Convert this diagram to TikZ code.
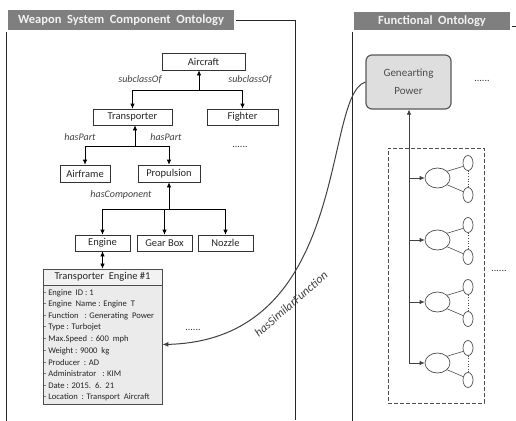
\documentclass[tikz,border=0pt]{standalone}
\usepackage{fontspec}
\setmainfont{Carlito}
\usetikzlibrary{arrows.meta,shapes.geometric,shadows,calc}
\definecolor{titlegray}{HTML}{7F7F7F}
\definecolor{linegray}{HTML}{333333}
\tikzset{
  titlebox/.style={fill=titlegray, draw=white, line width=1.6pt, text=white!95!black,
    font=\fontsize{12.5}{14}\selectfont\bfseries, inner sep=0pt,
    drop shadow={shadow xshift=0.6pt, shadow yshift=-0.8pt, opacity=0.3, fill=black}},
  cls/.style={draw=linegray, line width=0.7pt, fill=white, inner sep=0pt,
    minimum height=16, font=\fontsize{10.5}{12}\selectfont, text=black!85},
  rel/.style={font=\fontsize{10}{12}\selectfont\itshape, text=black!75, inner sep=0pt},
  conn/.style={draw=black, line width=0.7pt},
  arr/.style={conn, -{Latex[length=5pt,width=4.5pt]}},
  darr/.style={conn, {Latex[length=5pt,width=4.5pt]}-{Latex[length=5pt,width=4.5pt]}},
  frame/.style={draw=black!85, line width=0.8pt},
  more/.style={font=\fontsize{10}{12}\selectfont, text=black!80, inner sep=0pt},
  attr/.style={anchor=west, inner sep=0pt, font=\fontsize{8.6}{10}\selectfont, text=black!85},
  bigell/.style={ellipse, draw=black!70, line width=0.7pt, minimum width=25, minimum height=20, inner sep=0pt},
  smallell/.style={ellipse, draw=black!70, line width=0.7pt, minimum width=10, minimum height=15, inner sep=0pt},
  thin/.style={draw=black!70, line width=0.6pt}
}
\begin{document}
\begin{tikzpicture}[x=1pt,y=-1pt]
\useasboundingbox (0,0) rectangle (516,420);

% ---- titles and frames
\node[titlebox, minimum width=228, minimum height=22] (t1) at (121,20) {Weapon\ \ System\ \ Component\ \ Ontology};
\node[titlebox, minimum width=158, minimum height=20] (t2) at (432,21) {Functional\ \ Ontology};
\coordinate (fr1) at (295,420);
\draw[frame] (t1.east) -| (fr1);
\draw[frame] (t1.south west) -- ++(0,390);
\draw[frame] (t2.south west) -- ++(0,390);
\coordinate (r1) at (516,26);
\draw[frame] (r1 -| t2.east) -- (r1);

% ---- class hierarchy
\node[cls, minimum width=83, minimum height=17] (air) at (203.5,61.5) {Aircraft};
\node[cls, minimum width=79] (trans) at (132.5,117) {Transporter};
\node[cls, minimum width=71] (fight) at (242.5,117) {Fighter};
\node[cls, minimum width=50, minimum height=17] (airf) at (85,173.5) {Airframe};
\node[cls, minimum width=62, minimum height=17] (prop) at (169,173.5) {Propulsion};
\node[cls, minimum width=55] (eng) at (102.5,243) {Engine};
\node[cls, minimum width=55] (gear) at (164.5,243) {Gear\ Box};
\node[cls, minimum width=55] (noz) at (225.5,243) {Nozzle};

\coordinate (j1) at (199,90);
\coordinate (j2) at (135,146);
\coordinate (j3) at (169,209);

\draw[arr] (j1) -- (j1 |- air.south);
\draw[conn] (trans.north |- j1) -- (fight.north |- j1);
\draw[arr] (trans.north |- j1) -- (trans.north);
\draw[arr] (fight.north |- j1) -- (fight.north);

\draw[arr] (j2) -- (j2 |- trans.south);
\draw[conn] (airf.north |- j2) -- (prop.north |- j2);
\draw[arr] (airf.north |- j2) -- (airf.north);
\draw[arr] (prop.north |- j2) -- (prop.north);

\draw[arr] (j3) -- (j3 |- prop.south);
\draw[conn] (eng.north |- j3) -- (noz.north |- j3);
\draw[arr] (eng.north |- j3) -- (eng.north);
\draw[arr] (gear.north |- j3) -- (gear.north);
\draw[arr] (noz.north |- j3) -- (noz.north);

\node[rel] (l1) at (140,80) {subclassOf};
\node[rel] (l2) at (250,80) {subclassOf};
\node[rel] (l3) at (80,137) {hasPart};
\node[rel] (l4) at (166,137) {hasPart};
\node[rel] (l5) at (121,195) {hasComponent};
\node[more] (m1) at (240,147) {......};

% ---- instance
\node[draw=black!70, line width=0.8pt, fill=black!8, minimum width=119, minimum height=119, inner sep=0pt] (tebody) at (102.5,344.5) {};
\node[draw=black!70, line width=0.8pt, fill=black!5, minimum width=119, minimum height=16, inner sep=0pt,
      font=\fontsize{10.5}{12}\selectfont, text=black!85] (tehead) at (102.5,277) {Transporter\ \ Engine\ \#1};
\draw[darr] (eng.south) -- (eng.south |- tehead.north);
\foreach \t [count=\i from 0] in {%
  - Engine\ \ ID : 1,
  - Engine\ \ Name : Engine\ \ T,
  - Function\ \ \ : Generating\ \ Power,
  - Type : Turbojet,
  - Max.Speed\ \ : 600\ \ mph,
  - Weight : 9000\ \ kg,
  - Producer\ \ : AD,
  - Administrator\ \ \ : KIM,
  - Date : 2015.\ \ 6.\ \ 21,
  - Location\ \ : Transport\ \ Aircraft}
  \node[attr] (a\i) at (43.5,{293+11.56*\i}) {\t};
\node[more] (m2) at (193,330) {......};

% ---- functional ontology
\node[draw=black!65, line width=1.2pt, fill=black!13, rounded corners=6pt, minimum width=85, minimum height=54,
      align=center, font=\fontsize{11}{18}\selectfont, text=black!70, inner sep=0pt] (gp) at (408.5,82) {Genearting\\Power};
\node[more] (m3) at (482,81) {......};

\node[draw=black!70, line width=1pt, dash pattern=on 4pt off 2pt, minimum width=96, minimum height=255, inner sep=0pt] (dbox) at (436,275.5) {};
\node[more] (m4) at (499,271) {......};

\coordinate (v0) at (409,363);
\draw[arr, draw=black!75] (v0) -- (v0 |- gp.south);
\foreach \cy [count=\k] in {178,240,302,363} {
  \node[bigell] (b\k) at (437.5,\cy) {};
  \node[smallell] (st\k) at (468,\cy-15) {};
  \node[smallell] (sb\k) at (468,\cy+17) {};
  \coordinate (h\k) at (409,\cy);
  \draw[arr, draw=black!75] (h\k) -- (b\k.west);
  \draw[thin] (b\k.35) -- (st\k.215);
  \draw[thin] (b\k.-35) -- (sb\k.145);
  \draw[thin, dotted, line width=1pt] (st\k.south) -- (sb\k.north);
}

% ---- hasSimilarFunction
\draw[draw=black!75, line width=1pt, -{Latex[length=6pt,width=5pt]}] (gp.west) .. controls (322,96) and (352,340) .. (tebody.east);
\node[font=\fontsize{12}{14}\selectfont\itshape, text=black!75, rotate=41, inner sep=0pt] (hsf) at (291,304) {hasSimilarFunction};
\end{tikzpicture}
\end{document}
